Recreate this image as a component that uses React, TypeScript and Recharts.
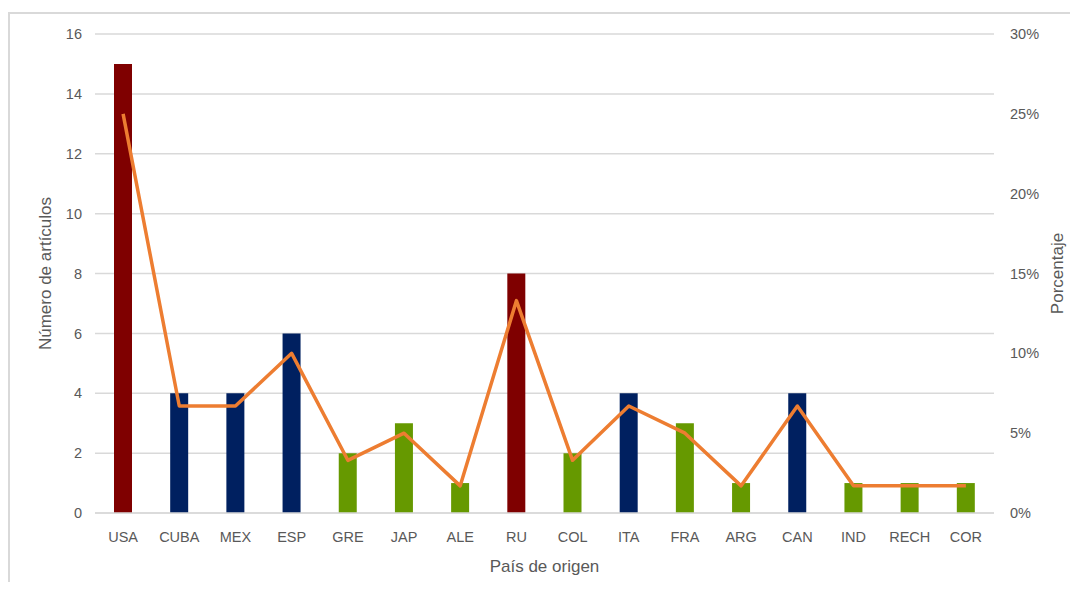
import React from "react";
import {
  ComposedChart,
  Bar,
  Line,
  XAxis,
  YAxis,
  CartesianGrid,
  Cell,
  Label,
} from "recharts";

// Countries of origin (abbreviated) and article counts
const countries = [
  "USA", "CUBA", "MEX", "ESP", "GRE", "JAP", "ALE", "RU",
  "COL", "ITA", "FRA", "ARG", "CAN", "IND", "RECH", "COR",
];
const articles = [15, 4, 4, 6, 2, 3, 1, 8, 2, 4, 3, 1, 4, 1, 1, 1];
// Share of the total, in percent
const shares = [25, 6.7, 6.7, 10, 3.3, 5, 1.7, 13.3, 3.3, 6.7, 5, 1.7, 6.7, 1.7, 1.7, 1.7];
// Bar colour group per country: 0 = high, 1 = medium, 2 = low
const groups = [0, 1, 1, 1, 2, 2, 2, 0, 2, 1, 2, 2, 1, 2, 2, 2];

const leftTicks = [0, 2, 4, 6, 8, 10, 12, 14, 16];
const rightTicks = [0, 5, 10, 15, 20, 25, 30];

const groupColors = ["#7F0000", "#002060", "#669900"];
const LINE_COLOR = "#ED7D31";
const GRID_COLOR = "#D9D9D9";
const TEXT_COLOR = "#595959";
const FONT = "'Liberation Sans', Arial, sans-serif";

const data = countries.map((name, i) => ({
  name,
  count: articles[i],
  pct: shares[i],
  group: groups[i],
}));

const tickStyle = { fill: TEXT_COLOR, fontSize: 14.5, fontFamily: FONT };
const titleStyle = { fill: TEXT_COLOR, fontSize: 17, fontFamily: FONT, textAnchor: "middle" as const };

export default function App() {
  return (
    <div style={{ paddingTop: 4 }}>
      <div
        style={{
          width: 1065,
          height: 568,
          borderTop: `2px solid ${GRID_COLOR}`,
          borderLeft: `2px solid ${GRID_COLOR}`,
          borderRight: `2px solid ${GRID_COLOR}`,
          background: "#fff",
        }}
      >
        <ComposedChart
          width={1065}
          height={568}
          data={data}
          margin={{ top: 20, right: 0, bottom: 0, left: 0 }}
          barCategoryGap={0}
        >
          <CartesianGrid vertical={false} stroke={GRID_COLOR} strokeWidth={1.5} yAxisId="left" />
          <XAxis
            dataKey="name"
            height={69}
            axisLine={{ stroke: GRID_COLOR, strokeWidth: 1.5 }}
            tickLine={false}
            tickSize={0}
            tickMargin={19}
            tick={tickStyle}
            interval={0}
          >
            <Label value="País de origen" position="insideBottom" offset={10} style={titleStyle} />
          </XAxis>
          <YAxis
            yAxisId="left"
            width={85}
            domain={[0, 16]}
            ticks={leftTicks}
            axisLine={false}
            tickLine={false}
            tickSize={0}
            tickMargin={13}
            tick={tickStyle}
          >
            <Label
              value="Número de artículos"
              angle={-90}
              position="insideLeft"
              offset={35}
              style={titleStyle}
            />
          </YAxis>
          <YAxis
            yAxisId="right"
            orientation="right"
            width={81}
            domain={[0, 30]}
            ticks={rightTicks}
            tickFormatter={(v: number) => `${v}%`}
            axisLine={false}
            tickLine={false}
            tickSize={0}
            tickMargin={16}
            tick={tickStyle}
          >
            <Label
              value="Porcentaje"
              angle={-90}
              position="insideRight"
              offset={18}
              style={titleStyle}
            />
          </YAxis>
          <Bar yAxisId="left" dataKey="count" barSize={18} isAnimationActive={false}>
            {data.map((d) => (
              <Cell key={d.name} fill={groupColors[d.group]} />
            ))}
          </Bar>
          <Line
            yAxisId="right"
            dataKey="pct"
            type="linear"
            stroke={LINE_COLOR}
            strokeWidth={3.5}
            strokeLinejoin="round"
            dot={false}
            activeDot={false}
            isAnimationActive={false}
          />
        </ComposedChart>
      </div>
    </div>
  );
}
